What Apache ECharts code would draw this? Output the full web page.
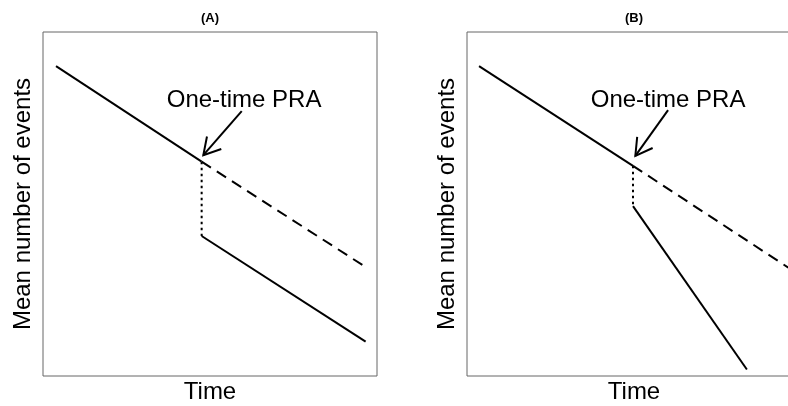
<!DOCTYPE html>
<html>
<head>
<meta charset="utf-8">
<script src="https://cdn.jsdelivr.net/npm/echarts@6/dist/echarts.min.js"></script>
<style>html,body{margin:0;padding:0;background:#fff}#c{width:788px;height:406px}</style>
</head>
<body>
<div id="c"></div>
<script>
// Panel titles and labels
var panelTitles = ['(A)', '(B)'];
var xAxisName = 'Time';
var yAxisName = 'Mean number of events';
var annotationText = 'One-time PRA';

// Panel A data (x = time, y = mean number of events), arbitrary units 0..10
var aBefore  = [[0.39, 9.01], [4.75, 6.23]];
var aNoPRA   = [[4.75, 6.23], [9.64, 3.18]];
var aDrop    = [[4.75, 6.23], [4.75, 4.07]];
var aAfter   = [[4.75, 4.07], [9.66, 1.00]];
var aLabel   = [[6.02, 8.02]];
var aArrow   = [[5.95, 7.70, 4.80, 6.42]];

// Panel B data
var bBefore  = [[0.36, 9.01], [4.97, 6.11]];
var bNoPRA   = [[4.97, 6.11], [9.62, 3.15]];
var bDrop    = [[4.97, 6.11], [4.97, 4.94]];
var bAfter   = [[4.97, 4.94], [8.38, 0.19]];
var bLabel   = [[6.02, 8.02]];
var bArrow   = [[6.02, 7.73, 5.04, 6.40]];

var FONT = '"Liberation Sans", Arial, sans-serif';
var chart = echarts.init(document.getElementById('c'), null, {renderer: 'canvas'});

function axisX(i) {
  return {gridIndex: i, type: 'value', min: 0, max: 10,
    axisLine: {show: false}, axisTick: {show: false}, axisLabel: {show: false}, splitLine: {show: false},
    name: xAxisName, nameLocation: 'middle', nameGap: 4,
    nameTextStyle: {fontFamily: FONT, fontSize: 24, color: '#000'}};
}
function axisY(i) {
  return {gridIndex: i, type: 'value', min: 0, max: 10,
    axisLine: {show: false}, axisTick: {show: false}, axisLabel: {show: false}, splitLine: {show: false},
    name: yAxisName, nameLocation: 'middle', nameGap: 8,
    nameTextStyle: {fontFamily: FONT, fontSize: 24, color: '#000'}};
}
function lineSeries(i, data, type) {
  return {type: 'line', xAxisIndex: i, yAxisIndex: i, data: data, showSymbol: false, symbol: 'none',
    silent: true, animation: false, clip: false,
    lineStyle: {color: '#000', width: 2, type: type, cap: 'butt'}};
}
function labelSeries(i, data) {
  return {type: 'custom', xAxisIndex: i, yAxisIndex: i, data: data, animation: false, silent: true,
    renderItem: function (params, api) {
      var p = api.coord([api.value(0), api.value(1)]);
      return {type: 'text', x: p[0], y: p[1], style: {text: annotationText, fontFamily: FONT,
        fontSize: 24, fill: '#000', align: 'center', verticalAlign: 'middle'}};
    }};
}
function arrowSeries(i, data) {
  return {type: 'custom', xAxisIndex: i, yAxisIndex: i, data: data, animation: false, silent: true,
    renderItem: function (params, api) {
      var p0 = api.coord([api.value(0), api.value(1)]);
      var p1 = api.coord([api.value(2), api.value(3)]);
      var ang = Math.atan2(p1[1] - p0[1], p1[0] - p0[0]);
      var L = 19, w = Math.PI / 6;
      var h1 = [p1[0] - L * Math.cos(ang - w), p1[1] - L * Math.sin(ang - w)];
      var h2 = [p1[0] - L * Math.cos(ang + w), p1[1] - L * Math.sin(ang + w)];
      var st = {stroke: '#000', lineWidth: 2, fill: null};
      return {type: 'group', children: [
        {type: 'line', shape: {x1: p0[0], y1: p0[1], x2: p1[0], y2: p1[1]}, style: st},
        {type: 'polyline', shape: {points: [h1, p1, h2]}, style: st}
      ]};
    }};
}

var option = {
  backgroundColor: '#fff',
  animation: false,
  grid: [
    {left: 43, top: 32, width: 334, height: 344, show: true, borderColor: '#666', borderWidth: 1,
     backgroundColor: 'transparent', containLabel: false, outerBoundsMode: 'none'},
    {left: 467, top: 32, width: 334, height: 344, show: true, borderColor: '#666', borderWidth: 1,
     backgroundColor: 'transparent', containLabel: false, outerBoundsMode: 'none'}
  ],
  xAxis: [axisX(0), axisX(1)],
  yAxis: [axisY(0), axisY(1)],
  graphic: [
    {type: 'text', x: 210, y: 18, style: {text: panelTitles[0], fontFamily: FONT, fontSize: 13, fontWeight: 'bold', fill: '#000', align: 'center', verticalAlign: 'middle'}},
    {type: 'text', x: 634, y: 18, style: {text: panelTitles[1], fontFamily: FONT, fontSize: 13, fontWeight: 'bold', fill: '#000', align: 'center', verticalAlign: 'middle'}}
  ],
  series: [
    lineSeries(0, aBefore, 'solid'),
    lineSeries(0, aNoPRA, [11, 7]),
    lineSeries(0, aDrop, [2.5, 3.5]),
    lineSeries(0, aAfter, 'solid'),
    labelSeries(0, aLabel),
    arrowSeries(0, aArrow),
    lineSeries(1, bBefore, 'solid'),
    lineSeries(1, bNoPRA, [11, 7]),
    lineSeries(1, bDrop, [2.5, 3.5]),
    lineSeries(1, bAfter, 'solid'),
    labelSeries(1, bLabel),
    arrowSeries(1, bArrow)
  ]
};
chart.setOption(option);
</script>
</body>
</html>
